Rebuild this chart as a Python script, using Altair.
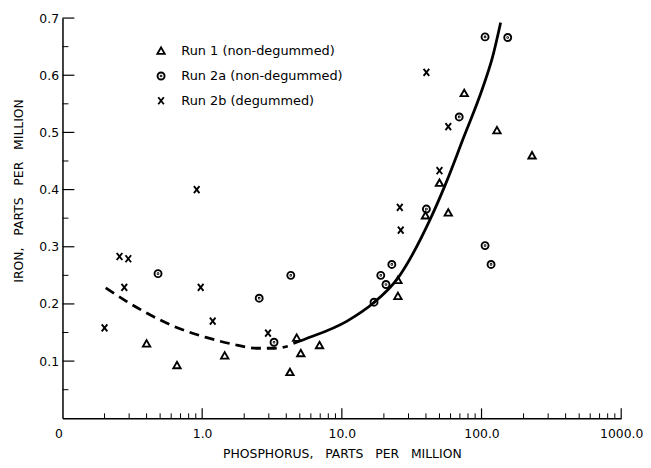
import altair as alt
import pandas as pd

FONT = "DejaVu Sans"
W, H = 564, 404

runs = ["Run 1 (non-degummed)", "Run 2a (non-degummed)", "Run 2b (degummed)"]

# Run 1 (triangles)
run1_p = [0.40, 0.66, 1.45, 4.25, 4.75, 5.08, 6.92, 25.2, 25.2, 39.7, 57.8, 50.0, 75.2, 129, 230]
run1_fe = [0.130, 0.092, 0.109, 0.080, 0.140, 0.113, 0.127, 0.241, 0.213, 0.354, 0.359, 0.411, 0.568, 0.503, 0.459]

# Run 2a (dotted circles)
run2a_p = [0.483, 2.56, 3.27, 4.31, 17.0, 19.0, 20.7, 22.8, 40.3, 69.2, 106, 154, 106, 117]
run2a_fe = [0.253, 0.210, 0.133, 0.250, 0.203, 0.250, 0.234, 0.269, 0.366, 0.527, 0.667, 0.666, 0.302, 0.269]

# Run 2b (crosses)
run2b_p = [0.20, 0.256, 0.296, 0.277, 0.914, 0.976, 1.19, 2.96, 26.0, 26.4, 40.3, 57.8, 50.0]
run2b_fe = [0.158, 0.283, 0.279, 0.229, 0.400, 0.229, 0.170, 0.149, 0.369, 0.329, 0.605, 0.510, 0.433]

# fitted curve
dash_p = [0.204, 0.285, 0.395, 0.611, 1.05, 1.63, 2.52, 3.3, 4.1]
dash_fe = [0.228, 0.205, 0.185, 0.162, 0.142, 0.130, 0.1225, 0.1225, 0.126]
solid_p = [4.5, 5.53, 10.9, 16.9, 24.8, 42.7, 56.0, 73.6, 102, 120, 137]
solid_fe = [0.131, 0.139, 0.170, 0.202, 0.243, 0.347, 0.413, 0.488, 0.578, 0.632, 0.692]

# axis ticks
x_major = [1, 10, 100, 1000]
x_decades = [0.1, 1, 10, 100]
x_mult = [2, 3, 4, 5, 6, 7, 8, 9]
y_major = [0.1, 0.2, 0.3, 0.4, 0.5, 0.6, 0.7]
y_minor = [0.05, 0.15, 0.25, 0.35, 0.45, 0.55, 0.65]

pts = pd.DataFrame({
    "P": run1_p + run2a_p + run2b_p,
    "Fe": run1_fe + run2a_fe + run2b_fe,
    "run": [runs[0]] * len(run1_p) + [runs[1]] * len(run2a_p) + [runs[2]] * len(run2b_p),
})
dash_df = pd.DataFrame({"P": dash_p, "Fe": dash_fe})
solid_df = pd.DataFrame({"P": solid_p, "Fe": solid_fe})
xmaj_df = pd.DataFrame({"P": x_major})
xmin_df = pd.DataFrame({"P": [d * m for d in x_decades for m in x_mult]})
ymaj_df = pd.DataFrame({"Fe": y_major})
ymin_df = pd.DataFrame({"Fe": y_minor})

xscale = alt.Scale(type="log", domain=[0.1, 1000], nice=False)
yscale = alt.Scale(domain=[0, 0.7], nice=False, zero=False)

tri = "M0,-1.1L1.05,0.75L-1.05,0.75Z"
circ = ("M-1,0A1,1,0,1,0,1,0A1,1,0,1,0,-1,0Z"
        "M-0.12,0A0.12,0.12,0,1,0,0.12,0A0.12,0.12,0,1,0,-0.12,0Z")
cross = "M-0.8,-1L0.8,1M-0.8,1L0.8,-1"

SP = "\u00a0\u00a0 "
xaxis = alt.Axis(
    values=[0.1, 1, 10, 100, 1000],
    labelExpr="datum.value < 0.5 ? '0' : format(datum.value, '.1f')",
    labelAlign={"condition": {"test": "datum.value < 0.5", "value": "right"}, "value": "center"},
    labelFlush=False, ticks=False, grid=False,
    domainColor="black", domainWidth=1.5,
    labelPadding=9, labelFont=FONT, labelFontSize=12.5, labelColor="black",
    title="PHOSPHORUS," + SP + "PARTS" + SP + "PER" + SP + "MILLION",
    titleFont=FONT, titleFontSize=12.5, titleFontWeight="normal", titleColor="black",
    titleX=W / 2, titleY=36, titleAlign="center", titleBaseline="middle",
)
yaxis = alt.Axis(
    values=y_major,
    labelExpr="format(datum.value, '.1f')",
    ticks=False, grid=False, domainColor="black", domainWidth=1.5,
    labelPadding=4, labelFont=FONT, labelFontSize=12.5, labelColor="black",
    title="IRON," + SP + "PARTS" + SP + "PER" + SP + "MILLION",
    titleFont=FONT, titleFontSize=12.5, titleFontWeight="normal", titleColor="black",
    titleX=-44, titleY=174, titleAngle=-90, titleAlign="center", titleBaseline="middle",
)

X = alt.X("P:Q", scale=xscale, axis=xaxis)
Y = alt.Y("Fe:Q", scale=yscale, axis=yaxis)

points = alt.Chart(pts).mark_point(filled=False, strokeWidth=1.9, size=50, color="black", opacity=1).encode(
    x=X, y=Y,
    shape=alt.Shape(
        "run:N",
        scale=alt.Scale(domain=runs, range=[tri, circ, cross]),
        legend=alt.Legend(
            title=None, orient="none", legendX=93, legendY=27,
            labelFont=FONT, labelFontSize=13, labelColor="black", labelLimit=0,
            labelOffset=14, rowPadding=10, padding=0,
            symbolStrokeColor="black", symbolStrokeWidth=1.9,
            symbolFillColor="transparent", symbolSize=50,
        ),
    ),
)

dashed = alt.Chart(dash_df).mark_line(
    color="black", strokeWidth=2.8, strokeDash=[10, 6], interpolate="monotone"
).encode(x=X, y=Y)

solid = alt.Chart(solid_df).mark_line(
    color="black", strokeWidth=2.8, interpolate="monotone"
).encode(x=X, y=Y)

xmaj = alt.Chart(xmaj_df).mark_rule(color="black", strokeWidth=1.2).encode(
    x=X, y=alt.value(H), y2=alt.value(H - 10))
xmin = alt.Chart(xmin_df).mark_rule(color="black", strokeWidth=1).encode(
    x=X, y=alt.value(H), y2=alt.value(H - 5))
ymaj = alt.Chart(ymaj_df).mark_rule(color="black", strokeWidth=1.2).encode(
    y=Y, x=alt.value(0), x2=alt.value(12))
ymin = alt.Chart(ymin_df).mark_rule(color="black", strokeWidth=1).encode(
    y=Y, x=alt.value(0), x2=alt.value(6))

chart = alt.layer(points, dashed, solid, xmaj, xmin, ymaj, ymin).properties(
    width=W, height=H,
    autosize=alt.AutoSizeParams(type="none"),
    padding={"left": 55, "top": 8, "right": 22, "bottom": 44},
    background="white",
).configure_view(stroke=None)

chart.save("out.html", embed_options={"renderer": "svg", "actions": False})
